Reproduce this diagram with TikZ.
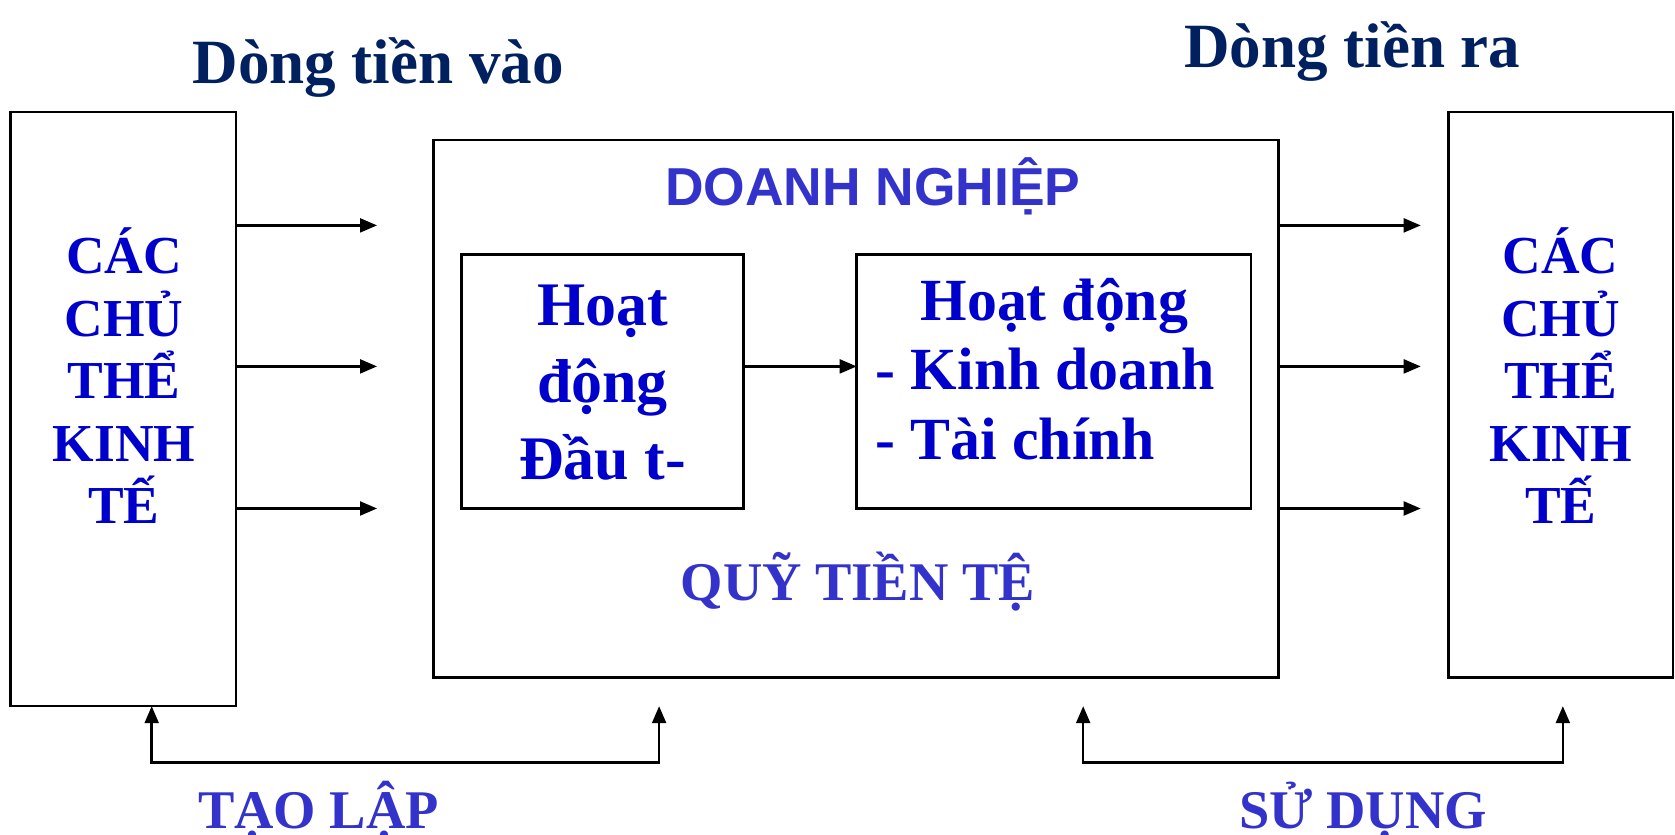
\documentclass[tikz,border=0pt]{standalone}
\usepackage{fontspec}
\setmainfont{Liberation Serif}
\newfontfamily\sansfont{Liberation Sans}
\usetikzlibrary{arrows.meta}
\definecolor{navy}{RGB}{0,32,96}
\definecolor{deepblue}{RGB}{0,0,204}
\definecolor{midblue}{RGB}{51,51,204}
\begin{document}
\begin{tikzpicture}[x=1pt,y=-1pt,
  box/.style={draw,line width=2.4pt,inner sep=0pt,outer sep=0pt},
  arr/.style={line width=2.4pt,-{Triangle[length=16pt,width=13pt]}},
  dbl/.style={line width=2.4pt,{Triangle[length=16pt,width=13pt]}-{Triangle[length=16pt,width=13pt]}},
  txt/.style={inner sep=0pt,outer sep=0pt},
  title/.style={txt,text=navy,font=\fontsize{59}{70}\selectfont\bfseries,anchor=base},
  lbl/.style={txt,text=midblue,font=\fontsize{51}{60}\selectfont\bfseries,anchor=base},
  actor/.style={txt,text=deepblue,align=center,font=\fontsize{50}{58.5}\selectfont\bfseries},
  act/.style={txt,text=deepblue,font=\fontsize{56}{66}\selectfont\bfseries}
]
\useasboundingbox (0,0) rectangle (1568,781);
\fill[white] (0,0) rectangle (1568,781);

% boxes
\node[box,minimum width=211pt,minimum height=556pt] (srcL) at (115.5,383) {};
\node[box,minimum width=210pt,minimum height=529pt] (srcR) at (1461,369.5) {};
\node[box,minimum width=791pt,minimum height=503pt] (firm) at (801.5,382.5) {};
\node[box,minimum width=264pt,minimum height=238pt] (inL) at (564,357) {};
\node[box,minimum width=369pt,minimum height=238pt] (inR) at (986.5,357) {};

% texts
\node[title] (tin) at (354,78) {Dòng tiền vào};
\node[title] (tout) at (1266,63) {Dòng tiền ra};
\node[lbl,font=\sansfont\fontsize{50}{60}\selectfont\bfseries] (dn) at (817,192) {DOANH NGHIỆP};
\node[lbl] (qtt) at (803,562) {QUỸ TIỀN TỆ};
\node[lbl] (tl) at (298,776) {TẠO LẬP};
\node[lbl] (sd) at (1276,776) {SỬ DỤNG};
\node[actor] (ctL) at (116,352) {CÁC\\CHỦ\\THỂ\\KINH\\TẾ};
\node[actor] (ctR) at (1461,352) {CÁC\\CHỦ\\THỂ\\KINH\\TẾ};
\node[act,align=center,font=\fontsize{58}{72}\selectfont\bfseries] (hd1) at (564,358) {Hoạt\\động\\Đầu t-};
\node[act,anchor=base] (hd2) at (987,300) {Hoạt động};
\node[act,anchor=base west] (kd) at (820,365) {- Kinh doanh};
\node[act,anchor=base west] (tc) at (820,430) {- Tài chính};

% arrows in
\coordinate (ia1) at (353,211);
\coordinate (ia2) at (353,343);
\coordinate (ia3) at (353,476);
\draw[arr] (srcL.east |- ia1) -- (ia1);
\draw[arr] (srcL.east |- ia2) -- (ia2);
\draw[arr] (srcL.east |- ia3) -- (ia3);
% arrows out
\coordinate (oa1) at (1330,211);
\coordinate (oa2) at (1330,343);
\coordinate (oa3) at (1330,476);
\draw[arr] (firm.east |- oa1) -- (oa1);
\draw[arr] (firm.east |- oa2) -- (oa2);
\draw[arr] (firm.east |- oa3) -- (oa3);
% inner arrow
\coordinate (mid) at (0,343);
\draw[arr] (inL.east |- mid) -- (inR.west |- mid);

% bottom brackets
\coordinate (b1) at (142,661);
\coordinate (b2) at (617,661);
\coordinate (b3) at (1014,661);
\coordinate (b4) at (1463,661);
\draw[dbl] (b1) -- ++(0,53) -| (b2);
\draw[dbl] (b3) -- ++(0,53) -| (b4);
\end{tikzpicture}
\end{document}
